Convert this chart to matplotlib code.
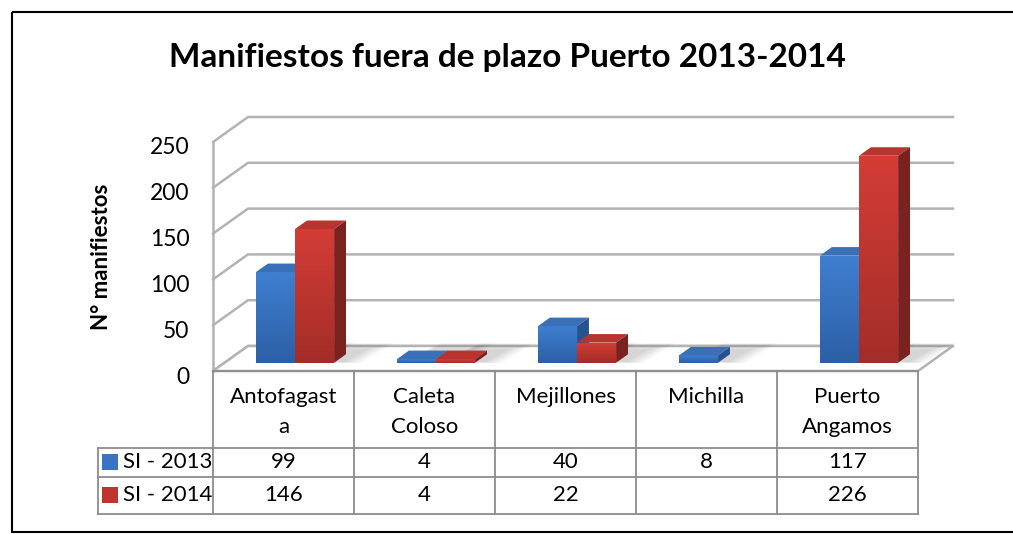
import numpy as np
import matplotlib
matplotlib.use("Agg")
import matplotlib.pyplot as plt
from matplotlib.patches import Polygon, Rectangle
from matplotlib.colors import LinearSegmentedColormap
import matplotlib.transforms as mtransforms

plt.rcParams['font.family'] = ['Lato', 'DejaVu Sans']

# data
title = "Manifiestos fuera de plazo Puerto 2013-2014"
ylabel = "N° manifiestos"
categories = ["Antofagast\na", "Caleta\nColoso", "Mejillones", "Michilla", "Puerto\nAngamos"]
series_names = ["SI - 2013", "SI - 2014"]
si_2013 = [99, 4, 40, 8, 117]
si_2014 = [146, 4, 22, None, 226]
yticks = [0, 50, 100, 150, 200, 250]

W, H = 1013, 534
fig = plt.figure(figsize=(W / 100, H / 100), dpi=100)

# pixel coords with origin at top-left
px = mtransforms.Affine2D().scale(1 / W, -1 / H).translate(0, 1) + fig.transFigure

# front plane of the 3d box
ax = fig.add_axes([213 / W, 1 - 371 / H, 705 / W, 229 / H])
ax.set_xlim(0, len(categories))
ax.set_ylim(0, 250)
ax.patch.set_visible(False)
for s in ax.spines.values():
    s.set_visible(False)
ax.set_xticks([])
ax.set_yticks(yticks)
ax.tick_params(axis='y', length=0, pad=17, labelsize=16.5)
shift = mtransforms.ScaledTranslation(0, -4 / 100, fig.dpi_scale_trans)
for lab in ax.get_yticklabels():
    lab.set_transform(lab.get_transform() + shift)

# depth vector in data units (oblique projection)
DX, DY = 35 / 141, 25 / (229 / 250)
n = len(categories)


def p(x, y, d):
    return (x + d * DX, y + d * DY)


grid_c = '#b3b3b3'
for v in yticks:
    xs, ys = zip(p(0, v, 0), p(0, v, 1), p(n, v, 1))
    ax.plot(xs, ys, color=grid_c, lw=1.8, clip_on=False, zorder=1,
            solid_joinstyle='miter')
ax.plot([0, 0], [0, 250], color=grid_c, lw=1.8, clip_on=False, zorder=1)
# floor
floor = Polygon([p(0, 0, 0), p(n, 0, 0), p(n, 0, 1), p(0, 0, 1)], closed=True,
                fc='white', ec=grid_c, lw=1.8, clip_on=False, zorder=1.5)
ax.add_patch(floor)

blue = LinearSegmentedColormap.from_list('b', ['#2c5fa6', '#3f7fd0'])
red = LinearSegmentedColormap.from_list('r', ['#a42d27', '#d33d36'])
styles = [
    dict(cmap=blue, top='#3a70b8', side='#28528e'),
    dict(cmap=red, top='#b8342e', side='#7a221f'),
]

bw = 0.277   # bar width in category units
f0, bd = 0.33, 0.34  # bar front depth and bar depth
grad = np.linspace(0, 1, 64).reshape(-1, 1)

for i in range(n):
    for k, vals in enumerate([si_2013, si_2014]):
        h = vals[i]
        if h is None:
            continue
        st = styles[k]
        x0 = i + 0.5 - bw + k * bw
        x1 = x0 + bw
        z = 3 + i + 0.1 * k
        # soft shadow on the floor
        for j in range(6):
            e = 0.025 * (6 - j)
            sh = Polygon([p(x0 + 0.03, 0, f0 + 0.1), p(x1 + e + 0.04, 0, f0 - 0.02),
                          p(x1 + e + 0.08, 0, f0 + bd + 0.15 + 2 * e),
                          p(x0 + 0.12, 0, f0 + bd + 0.15 + 2 * e)],
                         closed=True, fc='black', alpha=0.028, ec='none', lw=0,
                         clip_on=False, zorder=2)
            ax.add_patch(sh)
        front = [p(x0, 0, f0), p(x1, 0, f0), p(x1, h, f0), p(x0, h, f0)]
        top = [p(x0, h, f0), p(x1, h, f0), p(x1, h, f0 + bd), p(x0, h, f0 + bd)]
        side = [p(x1, 0, f0), p(x1, 0, f0 + bd), p(x1, h, f0 + bd), p(x1, h, f0)]
        fp = Polygon(front, closed=True, fc='none', ec='none', clip_on=False, zorder=z)
        ax.add_patch(fp)
        fx0, fy0 = front[0]
        fx1, fy1 = front[2]
        im = ax.imshow(grad, cmap=st['cmap'], aspect='auto', origin='lower',
                       extent=[fx0, fx1, fy0, fy1], zorder=z, interpolation='bilinear')
        im.set_clip_path(fp)
        ax.add_patch(Polygon(top, closed=True, fc=st['top'], ec='none',
                             clip_on=False, zorder=z))
        ax.add_patch(Polygon(side, closed=True, fc=st['side'], ec='none',
                             clip_on=False, zorder=z))
ax.set_xlim(0, n)
ax.set_ylim(0, 250)

# data table below the chart
tb = mtransforms.blended_transform_factory(ax.transData, px)
line_c = '#8c8c8c'
for b in range(n + 1):
    ax.plot([b, b], [371, 514], color=line_c, lw=1.3, transform=tb, clip_on=False)
ax.plot([0, n], [371, 371], color=line_c, lw=1.3, transform=tb, clip_on=False, zorder=2)
for yy in [448, 477, 514]:
    fig.add_artist(plt.Line2D([98, 213], [yy, yy], color=line_c, lw=1.3, transform=px))
    ax.plot([0, n], [yy, yy], color=line_c, lw=1.3, transform=tb, clip_on=False)
fig.add_artist(plt.Line2D([98, 98], [448, 514], color=line_c, lw=1.3, transform=px))

for i, cat in enumerate(categories):
    for j, line in enumerate(cat.split("\n")):
        ax.text(i + 0.5, 397 + 30 * j, line, transform=tb, ha='center', va='center',
                fontsize=16)
row_y = [462, 495]
key_c = ['#3a74c0', '#c0342e']
for k, vals in enumerate([si_2013, si_2014]):
    for i, v in enumerate(vals):
        if v is not None:
            ax.text(i + 0.5, row_y[k], str(v), transform=tb, ha='center',
                    va='center', fontsize=16)
    fig.add_artist(Rectangle((102, row_y[k] + 8), 16, -16, transform=px,
                             fc=key_c[k], ec='none'))
    fig.text(123, row_y[k], series_names[k], transform=px, ha='left',
             va='center', fontsize=16)

fig.text(507, 57, title, transform=px, ha='center', va='center', fontsize=24,
         fontweight='bold')
fig.text(101, 257, ylabel, transform=px, ha='center', va='center', fontsize=16,
         fontweight='bold', rotation=90)

# chart border
fig.add_artist(Rectangle((12, 12), 1010, 520, transform=px, fc='none',
                         ec='black', lw=1.5))

fig.savefig("out.png", dpi=100)
